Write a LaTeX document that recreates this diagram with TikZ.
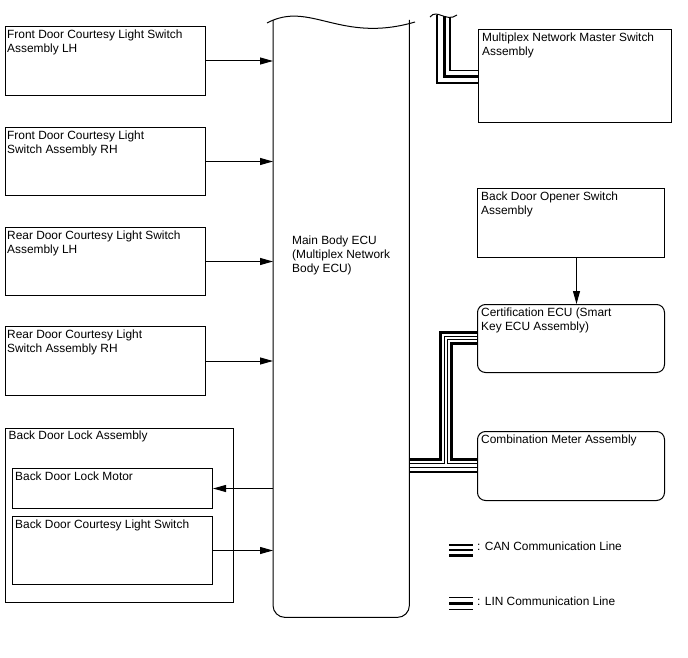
\documentclass[tikz,border=0pt]{standalone}
\usepackage{fontspec}
\setmainfont{Liberation Sans}
\usetikzlibrary{arrows.meta}
\newcommand\lab{\fontsize{11.9}{14}\selectfont}
\begin{document}
\begin{tikzpicture}[x=1pt,y=-1pt,
 box/.style={draw, line width=1pt, inner sep=0pt, anchor=north west},
 rbox/.style={box, rounded corners=8pt},
 lab/.style={anchor=north west, inner sep=0pt, align=left, font=\lab},
 arr/.style={line width=1pt, -{Triangle[length=13pt,width=7pt]}},
 thinbus/.style={line width=1.1pt},
 thickbus/.style={line width=3pt},
]
\useasboundingbox (0,0) rectangle (688,658);

% Main ECU
\node[inner sep=0pt, minimum width=136pt, minimum height=597pt, anchor=north west] (ecu) at (273,20) {};
\draw[line width=1pt, rounded corners=12pt] (ecu.north west) -- (ecu.south west) -- (ecu.south east) -- (ecu.north east);
\draw[line width=1pt] (267,23) .. controls (310,0) and (340,44) .. (415,22);
\node[lab] (ecut) at (292,236) {Main Body ECU\\(Multiplex Network\\Body ECU)};

% left boxes
\node[box, minimum width=200pt, minimum height=69pt] (fl) at (5,26) {};
\node[lab] (flt) at ([xshift=2pt,yshift=-3.5pt]fl.north west) {Front Door Courtesy Light Switch\\Assembly LH};
\node[box, minimum width=200pt, minimum height=68pt] (fr) at (5,127) {};
\node[lab] (frt) at ([xshift=2pt,yshift=-3.5pt]fr.north west) {Front Door Courtesy Light\\Switch Assembly RH};
\node[box, minimum width=200pt, minimum height=68pt] (rl) at (5,227) {};
\node[lab] (rlt) at ([xshift=2pt,yshift=-3.5pt]rl.north west) {Rear Door Courtesy Light Switch\\Assembly LH};
\node[box, minimum width=200pt, minimum height=69pt] (rr) at (5,326) {};
\node[lab] (rrt) at ([xshift=2pt,yshift=-3.5pt]rr.north west) {Rear Door Courtesy Light\\Switch Assembly RH};

\node[box, minimum width=228.5pt, minimum height=174pt] (bdla) at (4.5,427.5) {};
\node[lab] (bdlat) at ([xshift=4pt,yshift=-3.5pt]bdla.north west) {Back Door Lock Assembly};
\node[box, minimum width=200pt, minimum height=40pt] (motor) at (12,468) {};
\node[lab] (motort) at ([xshift=3pt,yshift=-3.5pt]motor.north west) {Back Door Lock Motor};
\node[box, minimum width=200pt, minimum height=68pt] (bdcs) at (12,516) {};
\node[lab] (bdcst) at ([xshift=3pt,yshift=-3.5pt]bdcs.north west) {Back Door Courtesy Light Switch};

\draw[arr] (fl.east) -- (fl.east -| ecu.west);
\draw[arr] (fr.east) -- (fr.east -| ecu.west);
\draw[arr] (rl.east) -- (rl.east -| ecu.west);
\draw[arr] (rr.east) -- (rr.east -| ecu.west);
\draw[arr] (motor.east -| ecu.west) -- (motor.east);
\draw[arr] (bdcs.east) -- (bdcs.east -| ecu.west);

% right boxes
\node[box, minimum width=193pt, minimum height=93pt] (mns) at (478,29) {};
\node[lab] (mnst) at ([xshift=4pt,yshift=-4pt]mns.north west) {Multiplex Network Master Switch\\Assembly};
\node[box, minimum width=187pt, minimum height=69pt] (bdo) at (477,188) {};
\node[lab] (bdot) at ([xshift=4pt,yshift=-4pt]bdo.north west) {Back Door Opener Switch\\Assembly};
\node[rbox, minimum width=187pt, minimum height=68pt] (cert) at (477,304) {};
\node[lab] (certt) at ([xshift=4pt,yshift=-4pt]cert.north west) {Certification ECU (Smart\\Key ECU Assembly)};
\node[rbox, minimum width=187pt, minimum height=69pt] (meter) at (477,431) {};
\node[lab] (metert) at ([xshift=4pt,yshift=-4pt]meter.north west) {Combination Meter Assembly};

\coordinate (ax) at (576.5,0);
\draw[arr] (bdo.south -| ax) -- (cert.north -| ax);

% LIN to master switch
\draw[line width=1pt] (430,17) .. controls (437,8) and (446,23) .. (457,15);
\draw[thinbus] (437,15) |- (mns.west |- 0,83);
\draw[thickbus] (444,16) |- (mns.west |- 0,76.5);
\draw[thinbus] (450,17) |- (mns.west |- 0,70.5);

% CAN to certification ECU and meter
\draw[thickbus] (ecu.east |- 0,459.5) -| (440.5,332.5) -- (cert.west |- 0,332.5);
\draw[thinbus] (ecu.east |- 0,463.5) -| (444.5,336.5) -- (cert.west |- 0,336.5);
\draw[thinbus] (cert.west |- 0,339.5) -| (447.5,463.5) -- (meter.west |- 0,463.5);
\draw[thickbus] (cert.west |- 0,343.5) -| (451.5,459.5) -- (meter.west |- 0,459.5);
\draw[thinbus] (ecu.east |- 0,467.5) -- (meter.west |- 0,467.5);
\draw[thinbus] (ecu.east |- 0,472) -- (meter.west |- 0,472);

% legend
\draw[line width=1.5pt] (449,545) -- (473,545);
\draw[line width=1.5pt] (449,550) -- (473,550);
\draw[line width=2.5pt] (449,555.5) -- (473,555.5);
\node[lab, anchor=west] (canl) at (477,546) {: CAN Communication Line};
\draw[line width=1.2pt] (449,597.5) -- (473,597.5);
\draw[line width=3pt] (449,603.5) -- (473,603.5);
\draw[line width=1.2pt] (449,609.5) -- (473,609.5);
\node[lab, anchor=west] (linl) at (477,601) {: LIN Communication Line};
\end{tikzpicture}
\end{document}
